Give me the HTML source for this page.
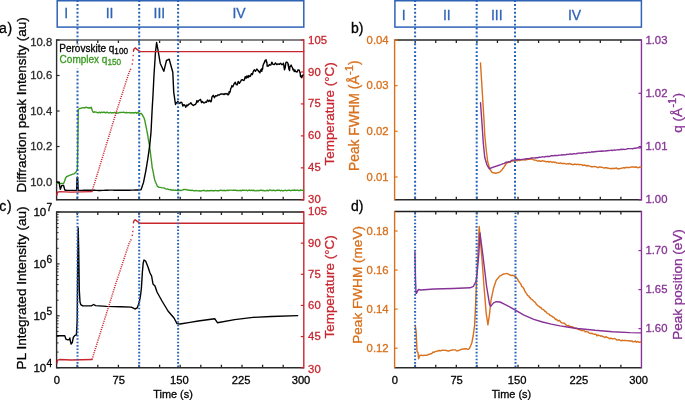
<!DOCTYPE html>
<html><head><meta charset="utf-8"><style>
html,body{margin:0;padding:0;background:#fff;width:685px;height:400px;overflow:hidden;}
svg{display:block;will-change:transform;filter:blur(0.25px);font-family:"Liberation Sans",sans-serif;}
</style></head><body>
<svg width="685" height="400" viewBox="0 0 685 400"><rect x="57.20" y="0.75" width="246.60" height="26.35" fill="none" stroke="#2e63b6" stroke-width="1.5"/>
<text x="66.20" y="18.10" font-size="14.00" fill="#2e63b6" stroke="#2e63b6" stroke-width="0.30" text-anchor="middle" font-family="Liberation Sans, sans-serif" >I</text>
<text x="109.60" y="18.10" font-size="14.00" fill="#2e63b6" stroke="#2e63b6" stroke-width="0.30" text-anchor="middle" font-family="Liberation Sans, sans-serif" >II</text>
<text x="159.40" y="18.10" font-size="14.00" fill="#2e63b6" stroke="#2e63b6" stroke-width="0.30" text-anchor="middle" font-family="Liberation Sans, sans-serif" >III</text>
<text x="239.10" y="18.10" font-size="14.00" fill="#2e63b6" stroke="#2e63b6" stroke-width="0.30" text-anchor="middle" font-family="Liberation Sans, sans-serif" >IV</text>
<rect x="394.90" y="0.75" width="246.50" height="26.35" fill="none" stroke="#2e63b6" stroke-width="1.5"/>
<text x="403.80" y="20.00" font-size="14.00" fill="#2e63b6" stroke="#2e63b6" stroke-width="0.30" text-anchor="middle" font-family="Liberation Sans, sans-serif" >I</text>
<text x="446.80" y="20.00" font-size="14.00" fill="#2e63b6" stroke="#2e63b6" stroke-width="0.30" text-anchor="middle" font-family="Liberation Sans, sans-serif" >II</text>
<text x="496.80" y="20.00" font-size="14.00" fill="#2e63b6" stroke="#2e63b6" stroke-width="0.30" text-anchor="middle" font-family="Liberation Sans, sans-serif" >III</text>
<text x="574.60" y="20.00" font-size="14.00" fill="#2e63b6" stroke="#2e63b6" stroke-width="0.30" text-anchor="middle" font-family="Liberation Sans, sans-serif" >IV</text>
<line x1="77.20" y1="40.00" x2="77.20" y2="43.00" stroke="#222" stroke-width="1.30" />
<line x1="77.20" y1="199.80" x2="77.20" y2="196.80" stroke="#222" stroke-width="1.30" />
<line x1="97.80" y1="40.00" x2="97.80" y2="43.00" stroke="#222" stroke-width="1.30" />
<line x1="97.80" y1="199.80" x2="97.80" y2="196.80" stroke="#222" stroke-width="1.30" />
<line x1="118.40" y1="40.00" x2="118.40" y2="43.00" stroke="#222" stroke-width="1.30" />
<line x1="118.40" y1="199.80" x2="118.40" y2="196.80" stroke="#222" stroke-width="1.30" />
<line x1="139.00" y1="40.00" x2="139.00" y2="43.00" stroke="#222" stroke-width="1.30" />
<line x1="139.00" y1="199.80" x2="139.00" y2="196.80" stroke="#222" stroke-width="1.30" />
<line x1="159.60" y1="40.00" x2="159.60" y2="43.00" stroke="#222" stroke-width="1.30" />
<line x1="159.60" y1="199.80" x2="159.60" y2="196.80" stroke="#222" stroke-width="1.30" />
<line x1="180.20" y1="40.00" x2="180.20" y2="43.00" stroke="#222" stroke-width="1.30" />
<line x1="180.20" y1="199.80" x2="180.20" y2="196.80" stroke="#222" stroke-width="1.30" />
<line x1="200.80" y1="40.00" x2="200.80" y2="43.00" stroke="#222" stroke-width="1.30" />
<line x1="200.80" y1="199.80" x2="200.80" y2="196.80" stroke="#222" stroke-width="1.30" />
<line x1="221.40" y1="40.00" x2="221.40" y2="43.00" stroke="#222" stroke-width="1.30" />
<line x1="221.40" y1="199.80" x2="221.40" y2="196.80" stroke="#222" stroke-width="1.30" />
<line x1="242.00" y1="40.00" x2="242.00" y2="43.00" stroke="#222" stroke-width="1.30" />
<line x1="242.00" y1="199.80" x2="242.00" y2="196.80" stroke="#222" stroke-width="1.30" />
<line x1="262.60" y1="40.00" x2="262.60" y2="43.00" stroke="#222" stroke-width="1.30" />
<line x1="262.60" y1="199.80" x2="262.60" y2="196.80" stroke="#222" stroke-width="1.30" />
<line x1="283.20" y1="40.00" x2="283.20" y2="43.00" stroke="#222" stroke-width="1.30" />
<line x1="283.20" y1="199.80" x2="283.20" y2="196.80" stroke="#222" stroke-width="1.30" />
<line x1="56.60" y1="40.00" x2="303.80" y2="40.00" stroke="#5a5a5a" stroke-width="1.40" />
<line x1="56.60" y1="199.80" x2="303.80" y2="199.80" stroke="#2a2a2a" stroke-width="1.40" />
<line x1="56.60" y1="39.30" x2="56.60" y2="200.50" stroke="#2a2a2a" stroke-width="1.40" />
<line x1="303.80" y1="39.30" x2="303.80" y2="200.50" stroke="#c8262f" stroke-width="1.40" />
<line x1="56.60" y1="182.04" x2="59.60" y2="182.04" stroke="#2a2a2a" stroke-width="1.20" />
<text x="52.30" y="185.59" font-size="11.30" fill="#2a2a2a" stroke="#2a2a2a" stroke-width="0.30" text-anchor="end" font-family="Liberation Sans, sans-serif" >10.0</text>
<line x1="56.60" y1="146.53" x2="59.60" y2="146.53" stroke="#2a2a2a" stroke-width="1.20" />
<text x="52.30" y="150.08" font-size="11.30" fill="#2a2a2a" stroke="#2a2a2a" stroke-width="0.30" text-anchor="end" font-family="Liberation Sans, sans-serif" >10.2</text>
<line x1="56.60" y1="111.02" x2="59.60" y2="111.02" stroke="#2a2a2a" stroke-width="1.20" />
<text x="52.30" y="114.57" font-size="11.30" fill="#2a2a2a" stroke="#2a2a2a" stroke-width="0.30" text-anchor="end" font-family="Liberation Sans, sans-serif" >10.4</text>
<line x1="56.60" y1="75.51" x2="59.60" y2="75.51" stroke="#2a2a2a" stroke-width="1.20" />
<text x="52.30" y="79.06" font-size="11.30" fill="#2a2a2a" stroke="#2a2a2a" stroke-width="0.30" text-anchor="end" font-family="Liberation Sans, sans-serif" >10.6</text>
<line x1="56.60" y1="40.00" x2="59.60" y2="40.00" stroke="#2a2a2a" stroke-width="1.20" />
<text x="52.30" y="45.65" font-size="11.30" fill="#2a2a2a" stroke="#2a2a2a" stroke-width="0.30" text-anchor="end" font-family="Liberation Sans, sans-serif" >10.8</text>
<line x1="303.80" y1="199.80" x2="300.80" y2="199.80" stroke="#c8262f" stroke-width="1.20" />
<text x="308.10" y="203.35" font-size="11.30" fill="#c8262f" stroke="#c8262f" stroke-width="0.30" text-anchor="start" font-family="Liberation Sans, sans-serif" >30</text>
<line x1="303.80" y1="167.84" x2="300.80" y2="167.84" stroke="#c8262f" stroke-width="1.20" />
<text x="308.10" y="171.39" font-size="11.30" fill="#c8262f" stroke="#c8262f" stroke-width="0.30" text-anchor="start" font-family="Liberation Sans, sans-serif" >45</text>
<line x1="303.80" y1="135.88" x2="300.80" y2="135.88" stroke="#c8262f" stroke-width="1.20" />
<text x="308.10" y="139.43" font-size="11.30" fill="#c8262f" stroke="#c8262f" stroke-width="0.30" text-anchor="start" font-family="Liberation Sans, sans-serif" >60</text>
<line x1="303.80" y1="103.92" x2="300.80" y2="103.92" stroke="#c8262f" stroke-width="1.20" />
<text x="308.10" y="107.47" font-size="11.30" fill="#c8262f" stroke="#c8262f" stroke-width="0.30" text-anchor="start" font-family="Liberation Sans, sans-serif" >75</text>
<line x1="303.80" y1="71.96" x2="300.80" y2="71.96" stroke="#c8262f" stroke-width="1.20" />
<text x="308.10" y="75.51" font-size="11.30" fill="#c8262f" stroke="#c8262f" stroke-width="0.30" text-anchor="start" font-family="Liberation Sans, sans-serif" >90</text>
<line x1="303.80" y1="40.00" x2="300.80" y2="40.00" stroke="#c8262f" stroke-width="1.20" />
<text x="308.10" y="43.55" font-size="11.30" fill="#c8262f" stroke="#c8262f" stroke-width="0.30" text-anchor="start" font-family="Liberation Sans, sans-serif" >105</text>
<line x1="77.20" y1="212.00" x2="77.20" y2="215.00" stroke="#222" stroke-width="1.30" />
<line x1="77.20" y1="367.70" x2="77.20" y2="364.70" stroke="#222" stroke-width="1.30" />
<line x1="97.80" y1="212.00" x2="97.80" y2="215.00" stroke="#222" stroke-width="1.30" />
<line x1="97.80" y1="367.70" x2="97.80" y2="364.70" stroke="#222" stroke-width="1.30" />
<line x1="118.40" y1="212.00" x2="118.40" y2="215.00" stroke="#222" stroke-width="1.30" />
<line x1="118.40" y1="367.70" x2="118.40" y2="364.70" stroke="#222" stroke-width="1.30" />
<line x1="139.00" y1="212.00" x2="139.00" y2="215.00" stroke="#222" stroke-width="1.30" />
<line x1="139.00" y1="367.70" x2="139.00" y2="364.70" stroke="#222" stroke-width="1.30" />
<line x1="159.60" y1="212.00" x2="159.60" y2="215.00" stroke="#222" stroke-width="1.30" />
<line x1="159.60" y1="367.70" x2="159.60" y2="364.70" stroke="#222" stroke-width="1.30" />
<line x1="180.20" y1="212.00" x2="180.20" y2="215.00" stroke="#222" stroke-width="1.30" />
<line x1="180.20" y1="367.70" x2="180.20" y2="364.70" stroke="#222" stroke-width="1.30" />
<line x1="200.80" y1="212.00" x2="200.80" y2="215.00" stroke="#222" stroke-width="1.30" />
<line x1="200.80" y1="367.70" x2="200.80" y2="364.70" stroke="#222" stroke-width="1.30" />
<line x1="221.40" y1="212.00" x2="221.40" y2="215.00" stroke="#222" stroke-width="1.30" />
<line x1="221.40" y1="367.70" x2="221.40" y2="364.70" stroke="#222" stroke-width="1.30" />
<line x1="242.00" y1="212.00" x2="242.00" y2="215.00" stroke="#222" stroke-width="1.30" />
<line x1="242.00" y1="367.70" x2="242.00" y2="364.70" stroke="#222" stroke-width="1.30" />
<line x1="262.60" y1="212.00" x2="262.60" y2="215.00" stroke="#222" stroke-width="1.30" />
<line x1="262.60" y1="367.70" x2="262.60" y2="364.70" stroke="#222" stroke-width="1.30" />
<line x1="283.20" y1="212.00" x2="283.20" y2="215.00" stroke="#222" stroke-width="1.30" />
<line x1="283.20" y1="367.70" x2="283.20" y2="364.70" stroke="#222" stroke-width="1.30" />
<line x1="56.60" y1="212.00" x2="303.80" y2="212.00" stroke="#1e1e1e" stroke-width="1.40" />
<line x1="56.60" y1="367.70" x2="303.80" y2="367.70" stroke="#2a2a2a" stroke-width="1.40" />
<line x1="56.60" y1="211.30" x2="56.60" y2="368.40" stroke="#2a2a2a" stroke-width="1.40" />
<line x1="303.80" y1="211.30" x2="303.80" y2="368.40" stroke="#c8262f" stroke-width="1.40" />
<line x1="56.60" y1="367.70" x2="59.60" y2="367.70" stroke="#2a2a2a" stroke-width="1.20" />
<line x1="56.60" y1="315.80" x2="59.60" y2="315.80" stroke="#2a2a2a" stroke-width="1.20" />
<line x1="56.60" y1="263.90" x2="59.60" y2="263.90" stroke="#2a2a2a" stroke-width="1.20" />
<line x1="56.60" y1="212.00" x2="59.60" y2="212.00" stroke="#2a2a2a" stroke-width="1.20" />
<line x1="56.60" y1="352.08" x2="58.60" y2="352.08" stroke="#2a2a2a" stroke-width="1.00" />
<line x1="56.60" y1="342.94" x2="58.60" y2="342.94" stroke="#2a2a2a" stroke-width="1.00" />
<line x1="56.60" y1="336.45" x2="58.60" y2="336.45" stroke="#2a2a2a" stroke-width="1.00" />
<line x1="56.60" y1="331.42" x2="58.60" y2="331.42" stroke="#2a2a2a" stroke-width="1.00" />
<line x1="56.60" y1="327.31" x2="58.60" y2="327.31" stroke="#2a2a2a" stroke-width="1.00" />
<line x1="56.60" y1="323.84" x2="58.60" y2="323.84" stroke="#2a2a2a" stroke-width="1.00" />
<line x1="56.60" y1="320.83" x2="58.60" y2="320.83" stroke="#2a2a2a" stroke-width="1.00" />
<line x1="56.60" y1="318.17" x2="58.60" y2="318.17" stroke="#2a2a2a" stroke-width="1.00" />
<line x1="56.60" y1="300.18" x2="58.60" y2="300.18" stroke="#2a2a2a" stroke-width="1.00" />
<line x1="56.60" y1="291.04" x2="58.60" y2="291.04" stroke="#2a2a2a" stroke-width="1.00" />
<line x1="56.60" y1="284.55" x2="58.60" y2="284.55" stroke="#2a2a2a" stroke-width="1.00" />
<line x1="56.60" y1="279.52" x2="58.60" y2="279.52" stroke="#2a2a2a" stroke-width="1.00" />
<line x1="56.60" y1="275.41" x2="58.60" y2="275.41" stroke="#2a2a2a" stroke-width="1.00" />
<line x1="56.60" y1="271.94" x2="58.60" y2="271.94" stroke="#2a2a2a" stroke-width="1.00" />
<line x1="56.60" y1="268.93" x2="58.60" y2="268.93" stroke="#2a2a2a" stroke-width="1.00" />
<line x1="56.60" y1="266.27" x2="58.60" y2="266.27" stroke="#2a2a2a" stroke-width="1.00" />
<line x1="56.60" y1="248.28" x2="58.60" y2="248.28" stroke="#2a2a2a" stroke-width="1.00" />
<line x1="56.60" y1="239.14" x2="58.60" y2="239.14" stroke="#2a2a2a" stroke-width="1.00" />
<line x1="56.60" y1="232.65" x2="58.60" y2="232.65" stroke="#2a2a2a" stroke-width="1.00" />
<line x1="56.60" y1="227.62" x2="58.60" y2="227.62" stroke="#2a2a2a" stroke-width="1.00" />
<line x1="56.60" y1="223.51" x2="58.60" y2="223.51" stroke="#2a2a2a" stroke-width="1.00" />
<line x1="56.60" y1="220.04" x2="58.60" y2="220.04" stroke="#2a2a2a" stroke-width="1.00" />
<line x1="56.60" y1="217.03" x2="58.60" y2="217.03" stroke="#2a2a2a" stroke-width="1.00" />
<line x1="56.60" y1="214.37" x2="58.60" y2="214.37" stroke="#2a2a2a" stroke-width="1.00" />
<text x="46.30" y="371.65" font-size="11.60" fill="#000" stroke="#000" stroke-width="0.30" text-anchor="end" font-family="Liberation Sans, sans-serif" >10</text>
<text x="46.60" y="366.65" font-size="10.20" fill="#000" stroke="#000" stroke-width="0.30" text-anchor="start" font-family="Liberation Sans, sans-serif" >4</text>
<text x="46.30" y="319.75" font-size="11.60" fill="#000" stroke="#000" stroke-width="0.30" text-anchor="end" font-family="Liberation Sans, sans-serif" >10</text>
<text x="46.60" y="314.75" font-size="10.20" fill="#000" stroke="#000" stroke-width="0.30" text-anchor="start" font-family="Liberation Sans, sans-serif" >5</text>
<text x="46.30" y="267.85" font-size="11.60" fill="#000" stroke="#000" stroke-width="0.30" text-anchor="end" font-family="Liberation Sans, sans-serif" >10</text>
<text x="46.60" y="262.85" font-size="10.20" fill="#000" stroke="#000" stroke-width="0.30" text-anchor="start" font-family="Liberation Sans, sans-serif" >6</text>
<text x="46.30" y="215.95" font-size="11.60" fill="#000" stroke="#000" stroke-width="0.30" text-anchor="end" font-family="Liberation Sans, sans-serif" >10</text>
<text x="46.60" y="210.95" font-size="10.20" fill="#000" stroke="#000" stroke-width="0.30" text-anchor="start" font-family="Liberation Sans, sans-serif" >7</text>
<line x1="303.80" y1="367.70" x2="300.80" y2="367.70" stroke="#c8262f" stroke-width="1.20" />
<text x="308.10" y="372.75" font-size="11.30" fill="#c8262f" stroke="#c8262f" stroke-width="0.30" text-anchor="start" font-family="Liberation Sans, sans-serif" >30</text>
<line x1="303.80" y1="336.56" x2="300.80" y2="336.56" stroke="#c8262f" stroke-width="1.20" />
<text x="308.10" y="340.11" font-size="11.30" fill="#c8262f" stroke="#c8262f" stroke-width="0.30" text-anchor="start" font-family="Liberation Sans, sans-serif" >45</text>
<line x1="303.80" y1="305.42" x2="300.80" y2="305.42" stroke="#c8262f" stroke-width="1.20" />
<text x="308.10" y="308.97" font-size="11.30" fill="#c8262f" stroke="#c8262f" stroke-width="0.30" text-anchor="start" font-family="Liberation Sans, sans-serif" >60</text>
<line x1="303.80" y1="274.28" x2="300.80" y2="274.28" stroke="#c8262f" stroke-width="1.20" />
<text x="308.10" y="277.83" font-size="11.30" fill="#c8262f" stroke="#c8262f" stroke-width="0.30" text-anchor="start" font-family="Liberation Sans, sans-serif" >75</text>
<line x1="303.80" y1="243.14" x2="300.80" y2="243.14" stroke="#c8262f" stroke-width="1.20" />
<text x="308.10" y="246.69" font-size="11.30" fill="#c8262f" stroke="#c8262f" stroke-width="0.30" text-anchor="start" font-family="Liberation Sans, sans-serif" >90</text>
<line x1="303.80" y1="212.00" x2="300.80" y2="212.00" stroke="#c8262f" stroke-width="1.20" />
<text x="308.10" y="214.55" font-size="11.30" fill="#c8262f" stroke="#c8262f" stroke-width="0.30" text-anchor="start" font-family="Liberation Sans, sans-serif" >105</text>
<line x1="415.17" y1="40.00" x2="415.17" y2="43.00" stroke="#222" stroke-width="1.30" />
<line x1="415.17" y1="199.80" x2="415.17" y2="196.80" stroke="#222" stroke-width="1.30" />
<line x1="435.74" y1="40.00" x2="435.74" y2="43.00" stroke="#222" stroke-width="1.30" />
<line x1="435.74" y1="199.80" x2="435.74" y2="196.80" stroke="#222" stroke-width="1.30" />
<line x1="456.31" y1="40.00" x2="456.31" y2="43.00" stroke="#222" stroke-width="1.30" />
<line x1="456.31" y1="199.80" x2="456.31" y2="196.80" stroke="#222" stroke-width="1.30" />
<line x1="476.88" y1="40.00" x2="476.88" y2="43.00" stroke="#222" stroke-width="1.30" />
<line x1="476.88" y1="199.80" x2="476.88" y2="196.80" stroke="#222" stroke-width="1.30" />
<line x1="497.45" y1="40.00" x2="497.45" y2="43.00" stroke="#222" stroke-width="1.30" />
<line x1="497.45" y1="199.80" x2="497.45" y2="196.80" stroke="#222" stroke-width="1.30" />
<line x1="518.03" y1="40.00" x2="518.03" y2="43.00" stroke="#222" stroke-width="1.30" />
<line x1="518.03" y1="199.80" x2="518.03" y2="196.80" stroke="#222" stroke-width="1.30" />
<line x1="538.60" y1="40.00" x2="538.60" y2="43.00" stroke="#222" stroke-width="1.30" />
<line x1="538.60" y1="199.80" x2="538.60" y2="196.80" stroke="#222" stroke-width="1.30" />
<line x1="559.17" y1="40.00" x2="559.17" y2="43.00" stroke="#222" stroke-width="1.30" />
<line x1="559.17" y1="199.80" x2="559.17" y2="196.80" stroke="#222" stroke-width="1.30" />
<line x1="579.74" y1="40.00" x2="579.74" y2="43.00" stroke="#222" stroke-width="1.30" />
<line x1="579.74" y1="199.80" x2="579.74" y2="196.80" stroke="#222" stroke-width="1.30" />
<line x1="600.31" y1="40.00" x2="600.31" y2="43.00" stroke="#222" stroke-width="1.30" />
<line x1="600.31" y1="199.80" x2="600.31" y2="196.80" stroke="#222" stroke-width="1.30" />
<line x1="620.88" y1="40.00" x2="620.88" y2="43.00" stroke="#222" stroke-width="1.30" />
<line x1="620.88" y1="199.80" x2="620.88" y2="196.80" stroke="#222" stroke-width="1.30" />
<line x1="394.60" y1="40.00" x2="641.45" y2="40.00" stroke="#262626" stroke-width="1.40" />
<line x1="394.60" y1="199.80" x2="641.45" y2="199.80" stroke="#2a2a2a" stroke-width="1.40" />
<line x1="394.60" y1="39.30" x2="394.60" y2="200.50" stroke="#d8701c" stroke-width="1.40" />
<line x1="641.45" y1="39.30" x2="641.45" y2="200.50" stroke="#873296" stroke-width="1.40" />
<line x1="394.60" y1="176.97" x2="397.60" y2="176.97" stroke="#d8701c" stroke-width="1.20" />
<text x="388.60" y="180.52" font-size="11.30" fill="#d8701c" stroke="#d8701c" stroke-width="0.30" text-anchor="end" font-family="Liberation Sans, sans-serif" >0.01</text>
<line x1="394.60" y1="131.31" x2="397.60" y2="131.31" stroke="#d8701c" stroke-width="1.20" />
<text x="388.60" y="134.86" font-size="11.30" fill="#d8701c" stroke="#d8701c" stroke-width="0.30" text-anchor="end" font-family="Liberation Sans, sans-serif" >0.02</text>
<line x1="394.60" y1="85.66" x2="397.60" y2="85.66" stroke="#d8701c" stroke-width="1.20" />
<text x="388.60" y="89.21" font-size="11.30" fill="#d8701c" stroke="#d8701c" stroke-width="0.30" text-anchor="end" font-family="Liberation Sans, sans-serif" >0.03</text>
<line x1="394.60" y1="40.00" x2="397.60" y2="40.00" stroke="#d8701c" stroke-width="1.20" />
<text x="388.60" y="43.55" font-size="11.30" fill="#d8701c" stroke="#d8701c" stroke-width="0.30" text-anchor="end" font-family="Liberation Sans, sans-serif" >0.04</text>
<line x1="641.45" y1="199.80" x2="638.45" y2="199.80" stroke="#873296" stroke-width="1.20" />
<text x="645.45" y="203.35" font-size="11.30" fill="#873296" stroke="#873296" stroke-width="0.30" text-anchor="start" font-family="Liberation Sans, sans-serif" >1.00</text>
<line x1="641.45" y1="146.53" x2="638.45" y2="146.53" stroke="#873296" stroke-width="1.20" />
<text x="645.45" y="150.08" font-size="11.30" fill="#873296" stroke="#873296" stroke-width="0.30" text-anchor="start" font-family="Liberation Sans, sans-serif" >1.01</text>
<line x1="641.45" y1="93.27" x2="638.45" y2="93.27" stroke="#873296" stroke-width="1.20" />
<text x="645.45" y="96.82" font-size="11.30" fill="#873296" stroke="#873296" stroke-width="0.30" text-anchor="start" font-family="Liberation Sans, sans-serif" >1.02</text>
<line x1="641.45" y1="40.00" x2="638.45" y2="40.00" stroke="#873296" stroke-width="1.20" />
<text x="645.45" y="43.55" font-size="11.30" fill="#873296" stroke="#873296" stroke-width="0.30" text-anchor="start" font-family="Liberation Sans, sans-serif" >1.03</text>
<line x1="415.17" y1="211.50" x2="415.17" y2="214.50" stroke="#222" stroke-width="1.30" />
<line x1="415.17" y1="367.70" x2="415.17" y2="364.70" stroke="#222" stroke-width="1.30" />
<line x1="435.74" y1="211.50" x2="435.74" y2="214.50" stroke="#222" stroke-width="1.30" />
<line x1="435.74" y1="367.70" x2="435.74" y2="364.70" stroke="#222" stroke-width="1.30" />
<line x1="456.31" y1="211.50" x2="456.31" y2="214.50" stroke="#222" stroke-width="1.30" />
<line x1="456.31" y1="367.70" x2="456.31" y2="364.70" stroke="#222" stroke-width="1.30" />
<line x1="476.88" y1="211.50" x2="476.88" y2="214.50" stroke="#222" stroke-width="1.30" />
<line x1="476.88" y1="367.70" x2="476.88" y2="364.70" stroke="#222" stroke-width="1.30" />
<line x1="497.45" y1="211.50" x2="497.45" y2="214.50" stroke="#222" stroke-width="1.30" />
<line x1="497.45" y1="367.70" x2="497.45" y2="364.70" stroke="#222" stroke-width="1.30" />
<line x1="518.03" y1="211.50" x2="518.03" y2="214.50" stroke="#222" stroke-width="1.30" />
<line x1="518.03" y1="367.70" x2="518.03" y2="364.70" stroke="#222" stroke-width="1.30" />
<line x1="538.60" y1="211.50" x2="538.60" y2="214.50" stroke="#222" stroke-width="1.30" />
<line x1="538.60" y1="367.70" x2="538.60" y2="364.70" stroke="#222" stroke-width="1.30" />
<line x1="559.17" y1="211.50" x2="559.17" y2="214.50" stroke="#222" stroke-width="1.30" />
<line x1="559.17" y1="367.70" x2="559.17" y2="364.70" stroke="#222" stroke-width="1.30" />
<line x1="579.74" y1="211.50" x2="579.74" y2="214.50" stroke="#222" stroke-width="1.30" />
<line x1="579.74" y1="367.70" x2="579.74" y2="364.70" stroke="#222" stroke-width="1.30" />
<line x1="600.31" y1="211.50" x2="600.31" y2="214.50" stroke="#222" stroke-width="1.30" />
<line x1="600.31" y1="367.70" x2="600.31" y2="364.70" stroke="#222" stroke-width="1.30" />
<line x1="620.88" y1="211.50" x2="620.88" y2="214.50" stroke="#222" stroke-width="1.30" />
<line x1="620.88" y1="367.70" x2="620.88" y2="364.70" stroke="#222" stroke-width="1.30" />
<line x1="394.60" y1="211.50" x2="641.45" y2="211.50" stroke="#1e1e1e" stroke-width="1.40" />
<line x1="394.60" y1="367.70" x2="641.45" y2="367.70" stroke="#2a2a2a" stroke-width="1.40" />
<line x1="394.60" y1="210.80" x2="394.60" y2="368.40" stroke="#d8701c" stroke-width="1.40" />
<line x1="641.45" y1="210.80" x2="641.45" y2="368.40" stroke="#873296" stroke-width="1.40" />
<line x1="394.60" y1="348.18" x2="397.60" y2="348.18" stroke="#d8701c" stroke-width="1.20" />
<text x="388.60" y="351.73" font-size="11.30" fill="#d8701c" stroke="#d8701c" stroke-width="0.30" text-anchor="end" font-family="Liberation Sans, sans-serif" >0.12</text>
<line x1="394.60" y1="309.12" x2="397.60" y2="309.12" stroke="#d8701c" stroke-width="1.20" />
<text x="388.60" y="312.67" font-size="11.30" fill="#d8701c" stroke="#d8701c" stroke-width="0.30" text-anchor="end" font-family="Liberation Sans, sans-serif" >0.14</text>
<line x1="394.60" y1="270.07" x2="397.60" y2="270.07" stroke="#d8701c" stroke-width="1.20" />
<text x="388.60" y="273.62" font-size="11.30" fill="#d8701c" stroke="#d8701c" stroke-width="0.30" text-anchor="end" font-family="Liberation Sans, sans-serif" >0.16</text>
<line x1="394.60" y1="231.03" x2="397.60" y2="231.03" stroke="#d8701c" stroke-width="1.20" />
<text x="388.60" y="234.58" font-size="11.30" fill="#d8701c" stroke="#d8701c" stroke-width="0.30" text-anchor="end" font-family="Liberation Sans, sans-serif" >0.18</text>
<line x1="641.45" y1="328.65" x2="638.45" y2="328.65" stroke="#873296" stroke-width="1.20" />
<text x="645.45" y="332.20" font-size="11.30" fill="#873296" stroke="#873296" stroke-width="0.30" text-anchor="start" font-family="Liberation Sans, sans-serif" >1.60</text>
<line x1="641.45" y1="289.60" x2="638.45" y2="289.60" stroke="#873296" stroke-width="1.20" />
<text x="645.45" y="293.15" font-size="11.30" fill="#873296" stroke="#873296" stroke-width="0.30" text-anchor="start" font-family="Liberation Sans, sans-serif" >1.65</text>
<line x1="641.45" y1="250.55" x2="638.45" y2="250.55" stroke="#873296" stroke-width="1.20" />
<text x="645.45" y="254.10" font-size="11.30" fill="#873296" stroke="#873296" stroke-width="0.30" text-anchor="start" font-family="Liberation Sans, sans-serif" >1.70</text>
<text x="56.90" y="383.60" font-size="11.20" fill="#000" stroke="#000" stroke-width="0.30" text-anchor="middle" font-family="Liberation Sans, sans-serif" >0</text>
<text x="394.90" y="383.60" font-size="11.20" fill="#000" stroke="#000" stroke-width="0.30" text-anchor="middle" font-family="Liberation Sans, sans-serif" >0</text>
<text x="118.70" y="383.60" font-size="11.20" fill="#000" stroke="#000" stroke-width="0.30" text-anchor="middle" font-family="Liberation Sans, sans-serif" >75</text>
<text x="456.61" y="383.60" font-size="11.20" fill="#000" stroke="#000" stroke-width="0.30" text-anchor="middle" font-family="Liberation Sans, sans-serif" >75</text>
<text x="179.30" y="383.60" font-size="11.20" fill="#000" stroke="#000" stroke-width="0.30" text-anchor="middle" font-family="Liberation Sans, sans-serif" >150</text>
<text x="517.13" y="383.60" font-size="11.20" fill="#000" stroke="#000" stroke-width="0.30" text-anchor="middle" font-family="Liberation Sans, sans-serif" >150</text>
<text x="241.20" y="383.60" font-size="11.20" fill="#000" stroke="#000" stroke-width="0.30" text-anchor="middle" font-family="Liberation Sans, sans-serif" >225</text>
<text x="578.94" y="383.60" font-size="11.20" fill="#000" stroke="#000" stroke-width="0.30" text-anchor="middle" font-family="Liberation Sans, sans-serif" >225</text>
<text x="301.00" y="383.60" font-size="11.20" fill="#000" stroke="#000" stroke-width="0.30" text-anchor="middle" font-family="Liberation Sans, sans-serif" >300</text>
<text x="638.65" y="383.60" font-size="11.20" fill="#000" stroke="#000" stroke-width="0.30" text-anchor="middle" font-family="Liberation Sans, sans-serif" >300</text>
<text x="173.00" y="397.90" font-size="10.90" fill="#000" stroke="#000" stroke-width="0.30" text-anchor="middle" font-family="Liberation Sans, sans-serif" >Time (s)</text>
<text x="511.40" y="397.90" font-size="10.90" fill="#000" stroke="#000" stroke-width="0.30" text-anchor="middle" font-family="Liberation Sans, sans-serif" >Time (s)</text>
<text x="-0.90" y="33.20" font-size="14.00" fill="#000" stroke="#000" stroke-width="0.30" text-anchor="start" font-family="Liberation Sans, sans-serif" >a</text>
<text x="7.60" y="33.20" font-size="14.00" fill="#000" stroke="#000" stroke-width="0.30" text-anchor="start" font-family="Liberation Sans, sans-serif" >)</text>
<text x="-0.70" y="210.90" font-size="14.00" fill="#000" stroke="#000" stroke-width="0.30" text-anchor="start" font-family="Liberation Sans, sans-serif" >c</text>
<text x="6.90" y="210.90" font-size="14.00" fill="#000" stroke="#000" stroke-width="0.30" text-anchor="start" font-family="Liberation Sans, sans-serif" >)</text>
<text x="351.00" y="32.50" font-size="14.00" fill="#000" stroke="#000" stroke-width="0.30" text-anchor="start" font-family="Liberation Sans, sans-serif" >b)</text>
<text x="351.00" y="211.40" font-size="14.00" fill="#000" stroke="#000" stroke-width="0.30" text-anchor="start" font-family="Liberation Sans, sans-serif" >d)</text>
<text transform="translate(26.30,104.85) rotate(-90)" font-size="13.50" fill="#000" stroke="#000" stroke-width="0.30" text-anchor="middle" font-family="Liberation Sans, sans-serif">Diffraction peak Intensity (au)</text>
<text transform="translate(26.40,287.95) rotate(-90)" font-size="13.55" fill="#000" stroke="#000" stroke-width="0.30" text-anchor="middle" font-family="Liberation Sans, sans-serif">PL Integrated Intensity (au)</text>
<text transform="translate(334.40,113.90) rotate(-90)" font-size="13.45" fill="#c8262f" stroke="#c8262f" stroke-width="0.30" text-anchor="middle" font-family="Liberation Sans, sans-serif">Temperature (&#176;C)</text>
<text transform="translate(334.40,286.90) rotate(-90)" font-size="13.45" fill="#c8262f" stroke="#c8262f" stroke-width="0.30" text-anchor="middle" font-family="Liberation Sans, sans-serif">Temperature (&#176;C)</text>
<text transform="translate(359.0,115.6) rotate(-90)" font-size="13.75" fill="#d8701c" stroke="#d8701c" stroke-width="0.30" text-anchor="middle" font-family="Liberation Sans, sans-serif">Peak FWHM (&#197;<tspan font-size="11" dx="0.4" dy="-5.6">-1</tspan><tspan dx="0.3" dy="5.6">)</tspan></text>
<text transform="translate(362.00,284.90) rotate(-90)" font-size="13.60" fill="#d8701c" stroke="#d8701c" stroke-width="0.30" text-anchor="middle" font-family="Liberation Sans, sans-serif">Peak FWHM (meV)</text>
<text transform="translate(682.0,112.9) rotate(-90)" font-size="13.55" fill="#873296" stroke="#873296" stroke-width="0.30" text-anchor="middle" font-family="Liberation Sans, sans-serif">q (&#197;<tspan font-size="11" dx="0.4" dy="-5.6">-1</tspan><tspan dx="0.3" dy="5.6">)</tspan></text>
<text transform="translate(682.00,284.50) rotate(-90)" font-size="13.55" fill="#873296" stroke="#873296" stroke-width="0.30" text-anchor="middle" font-family="Liberation Sans, sans-serif">Peak position (eV)</text>
<polyline points="57.00,183.30 58.00,183.33 59.00,183.37 60.00,183.40 61.20,183.43 62.40,183.47 63.60,183.50 64.10,182.25 64.60,181.00 64.93,180.00 65.27,179.00 65.60,178.00 66.80,176.50 67.90,176.05 69.00,175.60 70.00,175.20 71.00,174.80 72.00,174.40 73.20,174.05 74.40,173.70 75.25,172.85 76.10,172.00 76.75,170.70 77.40,169.40 77.42,168.39 77.43,167.37 77.45,166.36 77.47,165.34 77.49,164.33 77.50,163.32 77.52,162.30 77.54,161.29 77.56,160.28 77.57,159.26 77.59,158.25 77.61,157.23 77.62,156.22 77.64,155.21 77.66,154.19 77.68,153.18 77.69,152.17 77.71,151.15 77.73,150.14 77.74,149.12 77.76,148.11 77.78,147.10 77.80,146.08 77.81,145.07 77.83,144.06 77.85,143.04 77.87,142.03 77.88,141.01 77.90,140.00 77.91,138.98 77.92,137.97 77.93,136.95 77.94,135.93 77.95,134.92 77.96,133.90 77.97,132.88 77.98,131.87 77.99,130.85 78.00,129.83 78.01,128.82 78.02,127.80 78.03,126.78 78.04,125.77 78.05,124.75 78.06,123.73 78.07,122.72 78.08,121.70 78.09,120.68 78.10,119.67 78.11,118.65 78.12,117.63 78.13,116.62 78.14,115.60 78.15,114.58 78.16,113.57 78.17,112.55 78.18,111.53 78.19,110.52 78.20,109.50 79.70,108.51 80.80,108.25 81.90,107.93 83.00,107.70 84.07,107.62 85.13,107.88 86.20,107.18 87.20,107.57 88.20,108.00 89.20,107.73 90.20,107.96 91.20,107.25 91.57,108.57 91.93,109.37 92.30,110.64 93.40,112.27 94.40,111.81 95.40,112.05 96.40,112.15 97.40,112.77 98.40,112.69 99.40,112.19 100.41,112.78 101.42,112.19 102.42,112.63 103.43,112.20 104.44,112.09 105.45,112.88 106.46,112.29 107.46,112.31 108.47,113.01 109.48,112.91 110.49,112.40 111.49,113.01 112.50,112.64 113.51,112.77 114.52,112.35 115.53,113.02 116.53,112.81 117.54,113.06 118.55,113.00 119.56,112.48 120.57,112.54 121.57,112.37 122.58,112.36 123.59,112.30 124.60,112.52 125.61,112.80 126.61,112.27 127.62,112.88 128.63,112.58 129.64,112.57 130.64,113.03 131.65,112.74 132.66,112.59 133.67,112.75 134.68,112.96 135.68,112.39 136.69,113.22 137.70,112.37 138.80,113.27 139.90,113.61 141.00,113.32 142.10,114.46 142.54,115.05 142.98,116.20 143.43,116.66 143.87,117.66 144.31,118.75 144.75,120.41 144.96,120.77 145.17,122.31 145.38,123.51 145.58,124.56 145.79,125.07 146.00,126.12 146.21,127.31 146.42,128.58 146.62,129.02 146.83,130.64 147.04,131.73 147.25,132.82 147.42,133.08 147.58,134.90 147.75,135.13 147.92,136.36 148.08,137.60 148.25,138.88 148.42,139.36 148.58,140.88 148.75,141.54 148.92,142.33 149.08,143.34 149.25,144.21 149.42,145.12 149.58,146.18 149.75,147.67 149.88,148.95 150.00,149.20 150.12,150.09 150.25,151.94 150.38,152.53 150.50,153.42 150.62,154.26 150.75,155.58 150.88,156.79 151.00,157.46 151.12,158.43 151.25,159.10 151.38,160.87 151.50,161.08 151.62,162.49 151.75,163.80 151.88,164.17 152.00,165.71 152.12,166.90 152.25,167.62 152.46,168.80 152.67,169.23 152.88,170.57 153.08,171.35 153.29,173.02 153.50,173.57 153.71,174.75 153.92,176.28 154.12,177.19 154.33,178.35 154.54,178.92 154.75,179.99 155.17,181.25 155.58,182.06 156.00,182.94 156.42,184.08 156.83,184.89 157.25,186.14 158.30,187.04 159.35,187.36 160.40,187.41 161.45,187.65 162.50,187.85 163.50,187.83 164.50,188.20 165.50,188.85 166.50,189.13 167.50,188.88 168.50,189.46 169.50,189.65 170.50,189.78 171.50,189.95 172.50,190.23 173.54,189.96 174.58,190.35 175.62,190.05 176.67,190.32 177.71,190.66 178.75,190.67 179.79,190.16 180.83,190.60 181.88,190.18 182.92,189.97 183.96,189.31 185.00,189.64 186.00,189.48 187.00,189.95 188.00,189.87 189.00,190.29 190.00,190.23 191.00,190.47 192.00,190.16 193.00,190.53 194.00,190.71 195.00,190.90 196.01,190.46 197.01,190.90 198.02,190.92 199.03,190.76 200.03,191.01 201.04,190.99 202.05,190.60 203.05,190.60 204.06,190.27 205.06,190.88 206.07,190.96 207.08,190.55 208.08,190.74 209.09,190.76 210.10,190.77 211.10,190.26 212.11,190.81 213.12,190.62 214.12,190.70 215.13,190.47 216.14,190.65 217.14,190.79 218.15,190.66 219.16,190.73 220.16,190.11 221.17,190.22 222.18,190.47 223.18,190.66 224.19,190.27 225.19,190.68 226.20,190.63 227.21,190.10 228.21,190.48 229.22,190.26 230.23,190.10 231.23,190.17 232.24,190.33 233.25,190.21 234.25,190.22 235.26,190.07 236.27,190.45 237.27,190.38 238.28,190.58 239.29,190.56 240.29,190.24 241.30,190.84 242.30,190.02 243.31,190.38 244.32,190.26 245.32,190.38 246.33,190.11 247.34,190.75 248.34,190.34 249.35,190.03 250.36,190.55 251.36,190.08 252.37,190.48 253.38,190.29 254.38,190.51 255.39,190.85 256.40,190.72 257.40,190.35 258.41,190.71 259.41,190.55 260.42,190.30 261.43,190.09 262.43,190.50 263.44,190.47 264.45,190.82 265.45,190.83 266.46,190.50 267.47,190.27 268.47,190.75 269.48,189.95 270.49,190.04 271.49,190.45 272.50,190.49 273.51,190.06 274.51,190.50 275.52,190.73 276.52,190.26 277.53,190.31 278.54,190.12 279.54,190.18 280.55,190.79 281.56,190.25 282.56,190.77 283.57,190.73 284.58,190.44 285.58,190.13 286.59,190.78 287.60,190.34 288.60,190.27 289.61,190.18 290.62,190.77 291.62,190.33 292.63,190.14 293.64,190.31 294.64,189.98 295.65,190.43 296.65,190.27 297.66,190.13 298.67,190.57 299.67,190.61 300.68,189.87 301.69,190.33 302.69,190.10 303.70,190.30" fill="none" stroke="#3a9a20" stroke-width="1.40" stroke-linejoin="round" stroke-linecap="round" />
<polyline points="57.00,182.20 58.15,182.30 59.30,182.40 59.40,183.43 59.50,184.45 59.60,185.47 59.70,186.50 60.05,187.95 60.40,189.40 60.80,188.13 61.20,186.87 61.60,185.60 62.60,185.55 63.60,185.50 63.90,186.62 64.20,187.75 64.50,188.88 64.80,190.00 65.90,190.20 67.00,190.40 68.07,190.40 69.13,190.40 70.20,190.40 71.27,190.40 72.33,190.40 73.40,190.40 74.47,190.40 75.53,190.40 76.60,190.40 76.64,189.39 76.68,188.38 76.72,187.38 76.75,186.37 76.79,185.36 76.83,184.35 76.87,183.35 76.91,182.34 76.95,181.33 76.98,180.32 77.02,179.32 77.06,178.31 77.10,177.30 77.60,177.30 77.65,178.31 77.69,179.32 77.74,180.32 77.78,181.33 77.83,182.34 77.88,183.35 77.92,184.35 77.97,185.36 78.02,186.37 78.06,187.38 78.11,188.38 78.15,189.39 78.20,190.40 79.25,190.38 80.29,190.37 81.34,190.35 82.38,190.34 83.43,190.32 84.48,190.31 85.52,190.29 86.57,190.28 87.62,190.26 88.66,190.25 89.71,190.23 90.75,190.22 91.80,190.20 92.83,190.24 93.85,190.27 94.88,190.31 95.90,190.35 96.92,190.39 97.95,190.43 98.97,190.46 100.00,190.50 101.00,190.46 102.00,190.42 103.00,190.38 104.00,190.34 105.00,190.30 106.00,190.26 107.00,190.22 108.00,190.18 109.00,190.14 110.00,190.10 111.00,190.12 112.00,190.14 113.00,190.16 114.00,190.18 115.00,190.20 116.00,190.22 117.00,190.24 118.00,190.26 119.00,190.28 120.00,190.30 121.00,190.29 122.00,190.28 123.00,190.27 124.00,190.26 125.00,190.25 126.00,190.24 127.00,190.23 128.00,190.22 129.00,190.21 130.00,190.20 131.00,190.17 132.00,190.15 133.00,190.12 134.00,190.10 135.00,190.07 136.00,190.05 137.00,190.03 138.00,190.00 139.00,189.93 140.00,189.87 141.00,189.80 141.36,188.76 141.71,187.71 142.07,186.67 142.43,185.63 142.79,184.59 143.14,183.54 143.50,182.50 143.71,181.46 143.92,180.42 144.12,179.38 144.33,178.33 144.54,177.29 144.75,176.25 144.96,175.21 145.17,174.17 145.38,173.12 145.58,172.08 145.79,171.04 146.00,170.00 146.17,168.96 146.33,167.92 146.50,166.88 146.67,165.83 146.83,164.79 147.00,163.75 147.17,162.71 147.33,161.67 147.50,160.62 147.67,159.58 147.83,158.54 148.00,157.50 148.15,156.46 148.29,155.42 148.44,154.38 148.58,153.33 148.73,152.29 148.88,151.25 149.02,150.21 149.17,149.17 149.31,148.12 149.46,147.08 149.60,146.04 149.75,145.00 149.85,143.96 149.96,142.92 150.06,141.88 150.17,140.83 150.27,139.79 150.38,138.75 150.48,137.71 150.58,136.67 150.69,135.62 150.79,134.58 150.90,133.54 151.00,132.50 151.05,131.50 151.10,130.50 151.15,129.50 151.20,128.50 151.25,127.50 151.30,126.50 151.35,125.50 151.40,124.50 151.45,123.50 151.50,122.50 151.55,121.50 151.60,120.50 151.65,119.50 151.70,118.50 151.75,117.50 151.80,116.50 151.85,115.50 151.90,114.50 151.95,113.50 152.00,112.50 152.05,111.50 152.10,110.50 152.15,109.50 152.20,108.50 152.25,107.50 152.31,106.46 152.38,105.42 152.44,104.38 152.50,103.33 152.56,102.29 152.62,101.25 152.69,100.21 152.75,99.17 152.81,98.12 152.88,97.08 152.94,96.04 153.00,95.00 153.05,94.00 153.10,93.00 153.15,92.00 153.20,91.00 153.25,90.00 153.30,89.00 153.35,88.00 153.40,87.00 153.45,86.00 153.50,85.00 153.55,84.00 153.60,83.00 153.65,82.00 153.70,81.00 153.75,80.00 153.80,79.00 153.85,78.00 153.90,77.00 153.95,76.00 154.00,75.00 154.07,74.00 154.13,73.00 154.20,72.00 154.26,71.00 154.33,70.00 154.39,69.00 154.46,68.00 154.52,67.00 154.59,66.00 154.65,65.00 154.72,64.00 154.78,63.00 154.85,62.00 154.91,61.00 154.98,60.00 155.04,59.00 155.11,58.00 155.17,57.00 155.24,56.00 155.30,55.00 155.37,54.00 155.43,53.00 155.50,52.00 155.62,50.94 155.74,49.89 155.87,48.83 155.99,47.78 156.11,46.72 156.23,45.67 156.36,44.61 156.48,43.56 156.60,42.50 156.80,43.57 157.00,44.64 157.20,45.71 157.40,46.79 157.60,47.86 157.80,48.93 158.00,50.00 158.17,51.02 158.34,52.03 158.51,53.05 158.68,54.06 158.85,55.08 159.02,56.09 159.18,57.11 159.35,58.12 159.52,59.14 159.69,60.15 159.86,61.17 160.03,62.18 160.20,63.20 160.65,64.21 161.10,65.22 161.55,66.24 162.00,67.25 162.45,68.26 162.90,69.28 163.35,70.29 163.80,71.30 164.05,70.32 164.29,69.34 164.54,68.35 164.78,67.37 165.03,66.39 165.27,65.41 165.52,64.43 165.76,63.45 166.01,62.46 166.25,61.48 166.50,60.50 167.85,59.85 169.20,59.20 169.48,60.20 169.75,61.20 170.03,62.20 170.31,63.20 170.58,64.20 170.86,65.20 171.14,66.20 171.42,67.20 171.69,68.20 171.97,69.20 172.25,70.20 172.52,71.20 172.80,72.20 172.85,73.24 172.89,74.28 172.94,75.33 172.99,76.37 173.04,77.41 173.08,78.45 173.13,79.49 173.18,80.54 173.23,81.58 173.27,82.62 173.32,83.66 173.37,84.71 173.42,85.75 173.46,86.79 173.51,87.83 173.56,88.87 173.61,89.92 173.65,90.96 173.70,92.00 173.85,93.04 174.00,94.08 174.15,95.12 174.30,96.17 174.45,97.21 174.60,98.25 174.75,99.29 174.90,100.33 175.05,101.38 175.20,102.42 175.35,103.46 175.50,104.50 176.27,102.71 177.03,102.85 177.80,101.36 178.83,102.75 179.87,103.43 180.90,102.12 181.88,102.57 182.85,106.00 183.83,104.66 184.80,105.20 185.76,107.31 186.72,105.04 187.68,105.80 188.64,104.10 189.60,104.17 190.82,102.71 192.05,104.56 193.28,105.55 194.50,104.58 195.32,104.50 196.14,103.44 196.96,100.56 197.78,102.10 198.60,100.71 199.58,100.04 200.56,99.45 201.54,102.60 202.52,101.59 203.50,102.74 204.50,102.89 205.50,101.93 206.50,102.23 207.50,100.04 208.60,101.42 209.70,100.21 210.80,101.88 211.40,100.66 212.00,96.98 212.60,96.09 213.20,95.34 214.42,97.68 215.65,95.68 216.88,96.13 218.10,94.82 219.12,95.12 220.15,94.31 221.17,93.79 222.20,94.19 223.16,93.87 224.12,94.63 225.08,93.56 226.04,94.08 227.00,93.51 227.85,94.77 228.70,94.48 229.10,91.67 229.50,92.96 229.90,92.23 230.30,90.94 230.70,88.72 231.10,88.13 231.90,85.59 232.70,86.88 233.50,85.18 234.30,83.37 235.28,82.29 236.25,84.65 237.22,84.79 238.20,81.40 239.35,83.37 240.50,81.60 241.45,79.93 242.40,79.62 243.35,80.45 244.30,80.02 245.23,76.74 246.15,78.21 247.07,75.82 248.00,77.64 248.83,75.49 249.67,76.53 250.50,76.03 251.45,73.63 252.40,74.52 253.35,71.39 254.30,69.81 255.55,71.26 256.80,69.01 257.83,70.20 258.87,71.55 259.90,72.88 260.53,70.50 261.17,69.28 261.80,71.25 262.10,68.33 262.40,69.48 262.70,68.22 263.00,65.42 263.30,64.66 263.60,63.82 264.04,63.24 264.48,62.08 264.92,60.95 265.36,60.16 265.80,60.25 266.03,59.75 266.26,60.47 266.49,62.43 266.71,61.77 266.94,62.97 267.17,66.25 267.40,65.67 268.35,66.09 269.30,64.59 270.13,65.13 270.97,64.86 271.80,62.12 273.03,64.36 274.27,64.63 275.50,62.90 276.77,64.62 278.03,63.85 279.30,64.36 280.53,63.25 281.77,64.45 283.00,64.56 283.38,63.26 283.76,64.52 284.14,67.74 284.52,69.85 284.90,68.55 285.07,68.18 285.24,67.57 285.41,65.57 285.59,64.65 285.76,63.41 285.93,62.53 286.10,62.23 287.05,62.15 288.00,63.33 288.22,65.82 288.43,64.42 288.65,67.41 288.87,69.12 289.08,68.81 289.30,69.66 289.54,70.63 289.78,67.71 290.02,66.54 290.26,66.38 290.50,66.27 291.12,65.03 291.75,66.57 292.38,67.40 293.00,69.88 293.62,69.33 294.25,71.53 294.88,69.99 295.50,71.34 296.33,71.78 297.17,71.94 298.00,69.83 298.63,69.90 299.27,70.38 299.90,72.60 300.14,72.45 300.38,75.54 300.62,76.65 300.86,75.42 301.10,76.75 301.73,77.71 302.37,75.83 303.00,75.00" fill="none" stroke="#000" stroke-width="1.40" stroke-linejoin="round" stroke-linecap="round" />
<polyline points="57.00,195.00 57.50,192.20 60.00,191.60 70.75,192.10 92.00,191.60" fill="none" stroke="#c8262f" stroke-width="1.40" stroke-linejoin="round" stroke-linecap="round" />
<polyline points="92.00,191.60 116.00,113.00 125.00,85.00 129.20,72.00 131.30,68.00" fill="none" stroke="#c8262f" stroke-width="1.50" stroke-linejoin="round"  stroke-dasharray="1.1 1.1" stroke-linecap="butt"/>
<rect x="131.65" y="63.30" width="1.3" height="1.4" fill="#c8262f"/>
<rect x="132.15" y="59.30" width="1.3" height="1.4" fill="#c8262f"/>
<rect x="132.55" y="54.80" width="1.3" height="1.4" fill="#c8262f"/>
<polyline points="133.40,51.20 134.00,49.00 135.20,47.90 137.00,49.40 139.40,51.10 141.00,51.60 303.80,51.60" fill="none" stroke="#c8262f" stroke-width="1.40" stroke-linejoin="round" stroke-linecap="round" />
<polyline points="57.25,335.75 64.75,335.60 65.90,339.10 67.75,339.90 69.25,339.50 69.85,338.00 70.40,341.40 71.10,344.00 72.25,342.50 73.40,337.25 74.90,335.40 76.40,335.00 77.20,320.00 77.70,262.00 78.20,228.00 78.70,250.00 79.30,290.00 80.00,302.00 80.80,304.60 82.70,305.90 91.30,305.90 93.70,304.50 95.60,305.60 106.50,306.40 120.70,306.70 131.10,307.10 133.50,308.20 134.90,309.00 137.30,307.80 139.20,302.60 140.60,295.00 141.40,288.00 142.40,272.00 143.20,263.00 144.00,260.00 145.60,261.00 148.00,267.00 150.00,273.00 151.60,276.00 153.00,284.00 155.00,286.00 157.00,292.00 162.00,301.00 168.00,311.00 174.00,318.00 177.00,323.60 180.00,324.00 190.00,322.40 198.20,321.00 214.70,318.70 217.40,322.70 234.70,319.60 253.00,317.40 271.20,316.50 297.70,315.60" fill="none" stroke="#000" stroke-width="1.40" stroke-linejoin="round" stroke-linecap="round" />
<polyline points="57.00,362.83 57.50,360.11 60.00,359.53 70.75,360.01 92.00,359.53" fill="none" stroke="#c8262f" stroke-width="1.40" stroke-linejoin="round" stroke-linecap="round" />
<polyline points="92.00,359.53 116.00,283.04 125.00,255.79 129.20,243.14 131.30,239.25" fill="none" stroke="#c8262f" stroke-width="1.50" stroke-linejoin="round"  stroke-dasharray="1.1 1.1" stroke-linecap="butt"/>
<rect x="131.65" y="234.66" width="1.3" height="1.4" fill="#c8262f"/>
<rect x="132.15" y="230.76" width="1.3" height="1.4" fill="#c8262f"/>
<rect x="132.55" y="226.38" width="1.3" height="1.4" fill="#c8262f"/>
<polyline points="133.40,222.90 134.00,220.76 135.20,219.69 137.00,221.15 139.40,222.80 141.00,223.29 303.80,223.29" fill="none" stroke="#c8262f" stroke-width="1.40" stroke-linejoin="round" stroke-linecap="round" />
<polyline points="480.50,62.90 480.56,63.90 480.62,64.90 480.68,65.91 480.75,66.91 480.81,67.91 480.87,68.91 480.93,69.91 480.99,70.91 481.05,71.92 481.11,72.92 481.18,73.92 481.24,74.92 481.30,75.92 481.36,76.92 481.42,77.93 481.48,78.93 481.54,79.93 481.61,80.93 481.67,81.93 481.73,82.94 481.79,83.94 481.85,84.94 481.91,85.94 481.97,86.94 482.04,87.94 482.10,88.95 482.16,89.95 482.22,90.95 482.28,91.95 482.34,92.95 482.40,93.95 482.46,94.96 482.53,95.96 482.59,96.96 482.65,97.96 482.71,98.96 482.77,99.96 482.83,100.97 482.89,101.97 482.96,102.97 483.02,103.97 483.08,104.97 483.14,105.98 483.20,106.98 483.26,107.98 483.32,108.98 483.39,109.98 483.45,110.98 483.51,111.99 483.57,112.99 483.63,113.99 483.69,114.99 483.75,115.99 483.82,116.99 483.88,118.00 483.94,119.00 484.00,120.00 484.05,121.00 484.10,122.00 484.15,123.00 484.20,124.00 484.25,125.00 484.30,126.00 484.35,127.00 484.40,128.00 484.45,129.00 484.50,130.00 484.55,131.00 484.60,132.00 484.65,133.00 484.70,134.00 484.75,135.00 484.85,136.00 484.95,137.00 485.05,138.00 485.15,139.00 485.25,140.00 485.35,141.00 485.45,142.00 485.55,143.00 485.65,144.00 485.75,145.00 485.85,146.00 485.95,147.00 486.05,148.00 486.15,149.00 486.25,150.00 486.38,151.00 486.50,152.00 486.62,153.00 486.75,154.00 486.88,155.00 487.00,156.00 487.12,157.00 487.25,158.00 487.38,159.00 487.50,160.00 487.62,161.00 487.75,162.00 488.07,163.07 488.39,164.14 488.71,165.21 489.04,166.29 489.36,167.36 489.68,168.43 490.00,169.50 490.75,170.50 491.50,171.50 492.25,172.50 493.50,172.75 494.75,173.00 496.00,173.25 497.12,172.88 498.25,172.50 499.38,172.12 500.50,171.56 501.25,170.43 502.00,170.04 502.75,168.47 503.50,168.04 504.10,166.95 504.70,165.71 505.30,165.31 505.90,163.89 506.50,163.43 507.44,162.65 508.38,162.30 509.31,162.29 510.25,162.36 511.19,161.21 512.12,160.95 513.06,161.02 514.00,160.99 515.12,160.51 516.25,160.24 517.38,160.80 518.50,159.70 519.62,160.59 520.75,159.97 521.88,159.81 523.00,159.78 524.00,159.81 525.00,160.19 526.00,159.31 527.00,159.57 528.00,159.45 529.00,159.13 530.00,159.29 531.00,158.72 532.03,158.97 533.06,159.39 534.09,160.17 535.11,160.15 536.14,160.28 537.17,160.84 538.20,160.95 539.30,160.78 540.40,161.32 541.50,161.22 542.60,160.72 543.70,161.08 544.77,161.18 545.83,161.71 546.90,161.70 547.97,161.37 549.03,162.28 550.10,161.48 551.17,161.96 552.23,162.48 553.30,161.97 554.37,162.49 555.43,162.14 556.50,162.99 557.51,163.17 558.52,163.05 559.53,163.46 560.54,162.93 561.56,163.43 562.57,163.40 563.58,163.47 564.59,163.42 565.60,163.92 566.61,164.12 567.62,163.69 568.63,163.98 569.64,163.40 570.66,164.19 571.67,164.21 572.68,164.68 573.69,164.57 574.70,164.06 575.72,164.30 576.73,164.73 577.75,164.14 578.77,164.75 579.78,164.55 580.80,164.61 581.82,164.67 582.83,165.57 583.85,164.99 584.87,165.24 585.88,165.52 586.90,166.18 587.92,165.43 588.93,165.96 589.95,166.19 590.97,166.68 591.98,166.73 593.00,166.90 594.04,166.38 595.09,166.66 596.13,166.73 597.17,167.44 598.21,167.65 599.26,166.89 600.30,167.04 601.34,167.23 602.39,167.36 603.43,167.77 604.47,168.01 605.51,167.78 606.56,167.63 607.60,168.21 608.67,168.16 609.73,168.37 610.80,168.80 611.87,168.51 612.93,168.32 614.00,168.43 615.07,168.49 616.13,167.81 617.20,168.74 618.27,168.61 619.33,168.71 620.40,168.63 621.46,168.11 622.52,168.04 623.58,167.64 624.63,168.15 625.69,167.44 626.75,167.37 627.81,167.45 628.87,167.33 629.92,167.45 630.98,167.06 632.04,166.93 633.10,167.02 634.23,166.96 635.36,167.25 636.49,166.88 637.61,167.81 638.74,167.53 639.87,167.01 641.00,167.13" fill="none" stroke="#d8701c" stroke-width="1.40" stroke-linejoin="round" stroke-linecap="round" />
<polyline points="480.50,102.60 480.57,103.62 480.65,104.65 480.72,105.67 480.79,106.69 480.87,107.72 480.94,108.74 481.01,109.76 481.09,110.79 481.16,111.81 481.24,112.84 481.31,113.86 481.38,114.88 481.46,115.91 481.53,116.93 481.60,117.95 481.68,118.98 481.75,120.00 481.82,121.02 481.89,122.05 481.95,123.07 482.02,124.09 482.09,125.11 482.16,126.14 482.23,127.16 482.30,128.18 482.36,129.20 482.43,130.23 482.50,131.25 482.57,132.27 482.64,133.30 482.70,134.32 482.77,135.34 482.84,136.36 482.91,137.39 482.98,138.41 483.05,139.43 483.11,140.45 483.18,141.48 483.25,142.50 483.35,143.50 483.45,144.50 483.55,145.50 483.65,146.50 483.75,147.50 483.85,148.50 483.95,149.50 484.05,150.50 484.15,151.50 484.25,152.50 484.35,153.50 484.45,154.50 484.55,155.50 484.65,156.50 484.75,157.50 485.07,158.57 485.39,159.64 485.71,160.71 486.04,161.79 486.36,162.86 486.68,163.93 487.00,165.00 487.56,165.94 488.12,166.88 488.69,167.81 489.25,168.75 490.19,168.38 491.12,168.00 492.06,167.62 493.00,167.25 494.12,166.88 495.25,166.50 496.38,166.12 497.50,165.75 498.62,165.38 499.75,165.00 500.88,164.61 502.00,164.19 503.12,163.58 504.25,163.46 505.38,162.54 506.50,162.30 507.50,162.30 508.50,161.69 509.50,161.73 510.50,161.26 511.50,160.47 512.50,160.14 513.50,160.15 514.50,159.88 515.50,159.86 516.57,159.51 517.64,159.49 518.71,159.36 519.79,159.50 520.86,159.64 521.93,159.41 523.00,159.44 524.00,159.10 525.00,159.14 526.00,158.68 527.00,158.64 528.00,158.69 529.02,158.60 530.04,158.34 531.05,158.06 532.07,158.04 533.09,157.90 534.11,157.83 535.12,157.98 536.14,157.56 537.16,157.80 538.18,157.68 539.20,157.16 540.21,157.21 541.23,157.16 542.25,156.81 543.27,156.90 544.29,157.03 545.30,156.52 546.32,156.66 547.34,156.31 548.36,156.43 549.38,156.47 550.39,156.02 551.41,155.81 552.43,155.73 553.45,155.85 554.46,155.48 555.48,155.40 556.50,155.50 557.51,155.61 558.53,155.26 559.54,155.15 560.56,155.17 561.57,154.80 562.58,154.94 563.60,154.64 564.61,154.75 565.62,154.83 566.64,154.28 567.65,154.43 568.67,154.35 569.68,154.02 570.69,153.98 571.71,154.25 572.72,154.15 573.74,153.61 574.75,153.80 575.76,153.83 576.78,153.37 577.79,153.46 578.81,153.07 579.82,153.13 580.83,153.19 581.85,153.05 582.86,153.04 583.88,152.59 584.89,152.62 585.90,152.78 586.92,152.54 587.93,152.38 588.94,152.25 589.96,152.44 590.97,152.14 591.99,151.76 593.00,152.05 594.01,151.73 595.03,151.69 596.04,151.50 597.06,151.53 598.07,151.38 599.08,151.18 600.10,151.36 601.11,151.01 602.12,151.27 603.14,150.80 604.15,151.09 605.17,151.02 606.18,150.78 607.19,150.80 608.21,150.48 609.22,150.64 610.24,150.40 611.25,150.22 612.26,150.50 613.28,150.13 614.29,150.03 615.31,150.19 616.32,149.85 617.33,149.92 618.35,149.58 619.36,149.83 620.38,149.45 621.39,149.26 622.40,149.64 623.42,149.15 624.43,149.45 625.44,149.39 626.46,149.11 627.47,148.73 628.49,148.67 629.50,148.65 630.55,148.64 631.59,148.66 632.64,148.73 633.68,148.33 634.73,148.12 635.77,148.23 636.82,147.92 637.86,147.79 638.91,147.93 639.95,147.90 641.00,147.48" fill="none" stroke="#873296" stroke-width="1.40" stroke-linejoin="round" stroke-linecap="round" />
<polyline points="415.25,325.60 415.42,326.73 415.59,327.86 415.76,328.99 415.93,330.12 416.10,331.25 416.15,332.25 416.19,333.25 416.24,334.25 416.28,335.25 416.33,336.25 416.37,337.25 416.42,338.25 416.46,339.25 416.50,340.25 416.55,341.25 416.60,342.25 416.64,343.25 416.69,344.25 416.73,345.25 416.77,346.25 416.82,347.25 416.87,348.25 416.91,349.25 416.95,350.25 417.00,351.25 418.00,352.50 418.10,353.54 418.20,354.58 418.30,355.62 418.40,356.67 418.50,357.71 418.60,358.75 419.03,357.45 419.47,356.31 419.90,355.42 420.93,355.17 421.97,355.41 423.00,355.69 424.04,355.14 425.08,355.33 426.12,355.30 427.17,355.33 428.21,354.49 429.25,354.55 430.19,353.78 431.12,353.93 432.06,353.26 433.00,352.04 433.95,352.36 434.90,351.71 435.99,351.34 437.07,351.24 438.16,350.72 439.25,350.52 440.50,350.90 441.75,350.29 443.00,350.29 444.15,350.38 445.30,350.21 446.45,350.68 447.60,350.70 448.75,351.14 449.84,350.54 450.93,350.39 452.01,349.97 453.10,349.86 454.20,349.83 455.30,349.83 456.40,350.72 457.50,350.90 458.60,350.52 459.70,350.16 460.80,349.54 461.90,349.23 462.99,349.11 464.07,348.72 465.16,349.24 466.25,348.70 467.57,349.30 468.90,348.99 469.47,348.52 470.03,347.03 470.60,346.00 471.03,344.83 471.47,343.67 471.90,342.50 472.09,341.50 472.29,340.50 472.48,339.50 472.67,338.50 472.86,337.50 473.06,336.50 473.25,335.50 473.38,334.45 473.52,333.40 473.66,332.35 473.79,331.30 473.93,330.25 474.06,329.20 474.19,328.15 474.33,327.10 474.47,326.05 474.60,325.00 474.65,324.00 474.70,323.00 474.75,322.00 474.80,321.00 474.85,320.00 474.90,319.00 474.95,318.00 475.00,317.00 475.05,316.00 475.10,315.00 475.15,314.00 475.20,313.00 475.25,312.00 475.30,311.00 475.35,310.00 475.40,309.00 475.45,308.00 475.50,307.00 475.55,306.00 475.60,305.00 475.64,303.98 475.68,302.96 475.72,301.94 475.76,300.93 475.79,299.91 475.83,298.89 475.87,297.87 475.91,296.85 475.95,295.83 475.99,294.81 476.03,293.80 476.07,292.78 476.11,291.76 476.14,290.74 476.18,289.72 476.22,288.70 476.26,287.69 476.30,286.67 476.34,285.65 476.38,284.63 476.42,283.61 476.46,282.59 476.49,281.57 476.53,280.56 476.57,279.54 476.61,278.52 476.65,277.50 476.71,276.48 476.76,275.45 476.82,274.43 476.88,273.41 476.93,272.39 476.99,271.36 477.05,270.34 477.10,269.32 477.16,268.30 477.22,267.27 477.27,266.25 477.33,265.23 477.39,264.20 477.45,263.18 477.50,262.16 477.56,261.14 477.62,260.11 477.67,259.09 477.73,258.07 477.79,257.05 477.84,256.02 477.90,255.00 477.95,253.98 477.99,252.96 478.04,251.95 478.09,250.93 478.13,249.91 478.18,248.89 478.22,247.88 478.27,246.86 478.32,245.84 478.36,244.82 478.41,243.80 478.46,242.79 478.50,241.77 478.55,240.75 478.60,239.73 478.64,238.71 478.69,237.70 478.74,236.68 478.78,235.66 478.83,234.64 478.88,233.62 478.92,232.61 478.97,231.59 479.01,230.57 479.06,229.55 479.11,228.54 479.15,227.52 479.20,226.50 479.29,227.52 479.37,228.53 479.46,229.55 479.55,230.56 479.64,231.58 479.72,232.60 479.81,233.61 479.90,234.63 479.98,235.65 480.07,236.66 480.16,237.68 480.25,238.69 480.33,239.71 480.42,240.73 480.51,241.74 480.59,242.76 480.68,243.77 480.77,244.79 480.85,245.81 480.94,246.82 481.03,247.84 481.12,248.85 481.20,249.87 481.29,250.89 481.38,251.90 481.46,252.92 481.55,253.94 481.64,254.95 481.73,255.97 481.81,256.98 481.90,258.00 481.97,259.01 482.05,260.02 482.12,261.03 482.20,262.04 482.27,263.05 482.35,264.06 482.42,265.07 482.50,266.09 482.57,267.10 482.65,268.11 482.72,269.12 482.80,270.13 482.88,271.14 482.95,272.15 483.02,273.16 483.10,274.17 483.18,275.18 483.25,276.19 483.32,277.20 483.40,278.21 483.48,279.23 483.55,280.24 483.62,281.25 483.70,282.26 483.77,283.27 483.85,284.28 483.93,285.29 484.00,286.30 484.08,287.31 484.16,288.32 484.24,289.32 484.32,290.33 484.40,291.34 484.48,292.35 484.57,293.35 484.65,294.36 484.73,295.37 484.81,296.38 484.89,297.38 484.97,298.39 485.05,299.40 485.13,300.41 485.21,301.42 485.29,302.42 485.37,303.43 485.45,304.44 485.53,305.45 485.62,306.45 485.70,307.46 485.78,308.47 485.86,309.48 485.94,310.48 486.02,311.49 486.10,312.50 486.25,313.52 486.40,314.55 486.55,315.57 486.70,316.60 486.85,317.62 487.00,318.65 487.15,319.68 487.30,320.70 487.45,321.73 487.60,322.75 487.75,323.78 487.90,324.80 488.07,323.70 488.25,322.60 488.43,321.50 488.60,320.40 488.77,319.30 488.95,318.20 489.12,317.10 489.30,316.00 489.41,314.95 489.53,313.91 489.64,312.86 489.75,311.81 489.87,310.77 489.98,309.72 490.09,308.67 490.21,307.63 490.32,306.58 490.43,305.53 490.55,304.49 490.66,303.44 490.77,302.39 490.89,301.35 491.00,300.30 491.22,299.28 491.43,298.25 491.65,297.23 491.87,296.20 492.08,295.18 492.30,294.15 492.52,293.12 492.73,292.10 492.95,291.07 493.17,290.05 493.38,289.02 493.60,288.00 493.94,287.01 494.28,286.02 494.61,285.04 494.95,284.05 495.29,283.06 495.62,282.08 495.96,281.09 496.30,280.10 497.04,279.24 497.78,278.38 498.52,277.52 499.26,276.66 500.00,275.80 500.95,275.35 501.90,274.90 502.85,274.45 503.80,274.00 504.90,273.83 506.00,273.67 507.10,273.50 508.23,274.10 509.37,274.70 510.50,275.30 511.62,275.43 512.75,275.21 513.88,275.93 515.00,276.06 515.56,277.13 516.12,277.04 516.69,277.94 517.25,278.66 517.81,279.60 518.38,281.15 518.94,281.14 519.50,282.54 520.06,282.95 520.62,283.91 521.19,284.95 521.75,286.37 522.31,286.90 522.88,286.92 523.44,288.14 524.00,288.81 524.57,290.71 525.14,291.51 525.71,292.39 526.29,293.30 526.86,294.07 527.43,295.24 528.00,295.91 528.72,295.90 529.44,297.46 530.16,297.69 530.88,298.81 531.59,299.28 532.31,299.83 533.03,300.47 533.75,301.30 534.55,301.86 535.34,302.30 536.14,304.00 536.93,304.69 537.73,305.67 538.52,305.98 539.32,306.50 540.11,307.49 540.91,307.35 541.70,308.83 542.50,309.22 543.30,309.48 544.09,310.16 544.89,311.24 545.68,311.50 546.48,312.43 547.27,313.27 548.07,313.61 548.86,313.87 549.66,315.01 550.45,315.29 551.25,315.93 552.12,316.39 553.00,317.15 553.88,317.26 554.75,318.59 555.62,319.54 556.50,319.27 557.38,320.25 558.25,321.07 559.12,320.34 560.00,321.00 560.98,322.42 561.96,322.95 562.93,323.16 563.91,322.98 564.89,323.82 565.87,324.95 566.84,325.46 567.82,325.84 568.80,325.48 569.77,326.73 570.73,326.39 571.70,327.20 572.67,326.73 573.63,328.23 574.60,328.04 575.57,328.55 576.53,328.16 577.50,329.06 578.48,329.36 579.46,329.72 580.43,329.74 581.41,330.60 582.39,330.40 583.37,330.68 584.34,330.84 585.32,331.91 586.30,331.46 587.27,331.92 588.23,332.00 589.20,333.10 590.17,333.28 591.13,333.56 592.10,333.15 593.07,334.02 594.03,334.18 595.00,334.13 595.98,334.25 596.96,335.89 597.93,334.90 598.91,335.40 599.89,335.60 600.87,336.30 601.84,335.82 602.82,336.61 603.80,336.71 604.90,337.59 606.00,336.66 607.10,337.34 608.20,337.80 609.30,338.68 610.40,338.27 611.50,338.44 612.60,338.94 613.69,338.62 614.77,338.44 615.86,339.30 616.95,340.07 618.04,340.03 619.12,339.56 620.21,340.36 621.30,340.79 622.39,340.09 623.47,340.67 624.56,340.47 625.65,340.44 626.74,340.63 627.83,340.64 628.91,340.97 630.00,340.65 631.06,341.25 632.12,340.90 633.18,341.93 634.24,341.80 635.30,341.06 636.36,342.22 637.42,341.50 638.48,341.99 639.54,342.19 640.60,341.97" fill="none" stroke="#d8701c" stroke-width="1.40" stroke-linejoin="round" stroke-linecap="round" />
<polyline points="414.90,251.90 415.50,280.00 416.00,293.10 416.40,293.30 418.30,289.70 418.80,289.50 420.70,290.00 434.00,289.00 453.00,288.50 470.00,287.80 473.50,286.30 476.10,281.00 477.40,270.50 478.75,255.00 480.00,233.00 483.10,257.00 486.60,286.30 489.60,304.70 490.70,306.40 493.60,302.90 496.30,301.70 500.00,302.00 503.80,303.90 510.50,307.30 516.20,310.60 524.00,315.10 533.75,319.40 542.50,322.00 551.25,324.10 560.00,325.90 568.80,327.30 577.50,328.50 595.00,330.30 612.60,331.70 630.00,332.60 640.60,332.90" fill="none" stroke="#873296" stroke-width="1.40" stroke-linejoin="round" stroke-linecap="round" />
<line x1="77.50" y1="0.05" x2="77.50" y2="199.40" stroke="#2462b8" stroke-width="2.00" stroke-dasharray="1.90 2.03"/>
<line x1="77.50" y1="212.45" x2="77.50" y2="367.20" stroke="#2462b8" stroke-width="2.00" stroke-dasharray="1.60 1.80"/>
<line x1="139.20" y1="0.05" x2="139.20" y2="199.40" stroke="#2462b8" stroke-width="2.00" stroke-dasharray="1.90 2.03"/>
<line x1="139.20" y1="212.45" x2="139.20" y2="367.20" stroke="#2462b8" stroke-width="2.00" stroke-dasharray="1.60 1.80"/>
<line x1="178.10" y1="0.05" x2="178.10" y2="199.40" stroke="#2462b8" stroke-width="2.00" stroke-dasharray="1.90 2.03"/>
<line x1="178.10" y1="212.45" x2="178.10" y2="367.20" stroke="#2462b8" stroke-width="2.00" stroke-dasharray="1.60 1.80"/>
<line x1="415.10" y1="0.05" x2="415.10" y2="199.40" stroke="#2462b8" stroke-width="2.00" stroke-dasharray="1.90 2.03"/>
<line x1="415.10" y1="212.45" x2="415.10" y2="367.20" stroke="#2462b8" stroke-width="2.00" stroke-dasharray="1.60 1.80"/>
<line x1="476.70" y1="0.05" x2="476.70" y2="199.40" stroke="#2462b8" stroke-width="2.00" stroke-dasharray="1.90 2.03"/>
<line x1="476.60" y1="212.45" x2="476.60" y2="367.20" stroke="#2462b8" stroke-width="2.00" stroke-dasharray="1.60 1.80"/>
<line x1="515.00" y1="0.05" x2="515.00" y2="199.40" stroke="#2462b8" stroke-width="2.00" stroke-dasharray="1.90 2.03"/>
<line x1="515.50" y1="212.45" x2="515.50" y2="367.20" stroke="#2462b8" stroke-width="2.00" stroke-dasharray="1.60 1.80"/>
<rect x="58" y="44.4" width="70" height="24.2" fill="#fff"/>
<text x="59.3" y="52.2" font-size="10" fill="#000" stroke="#000" stroke-width="0.30" font-family="Liberation Sans, sans-serif">Perovskite q<tspan font-size="8.2" dy="1.8">100</tspan></text>
<text x="59.6" y="63.0" font-size="10" fill="#3a9a20" stroke="#3a9a20" stroke-width="0.30" font-family="Liberation Sans, sans-serif">Complex q<tspan font-size="8.2" dy="1.8">150</tspan></text></svg>
</body></html>
